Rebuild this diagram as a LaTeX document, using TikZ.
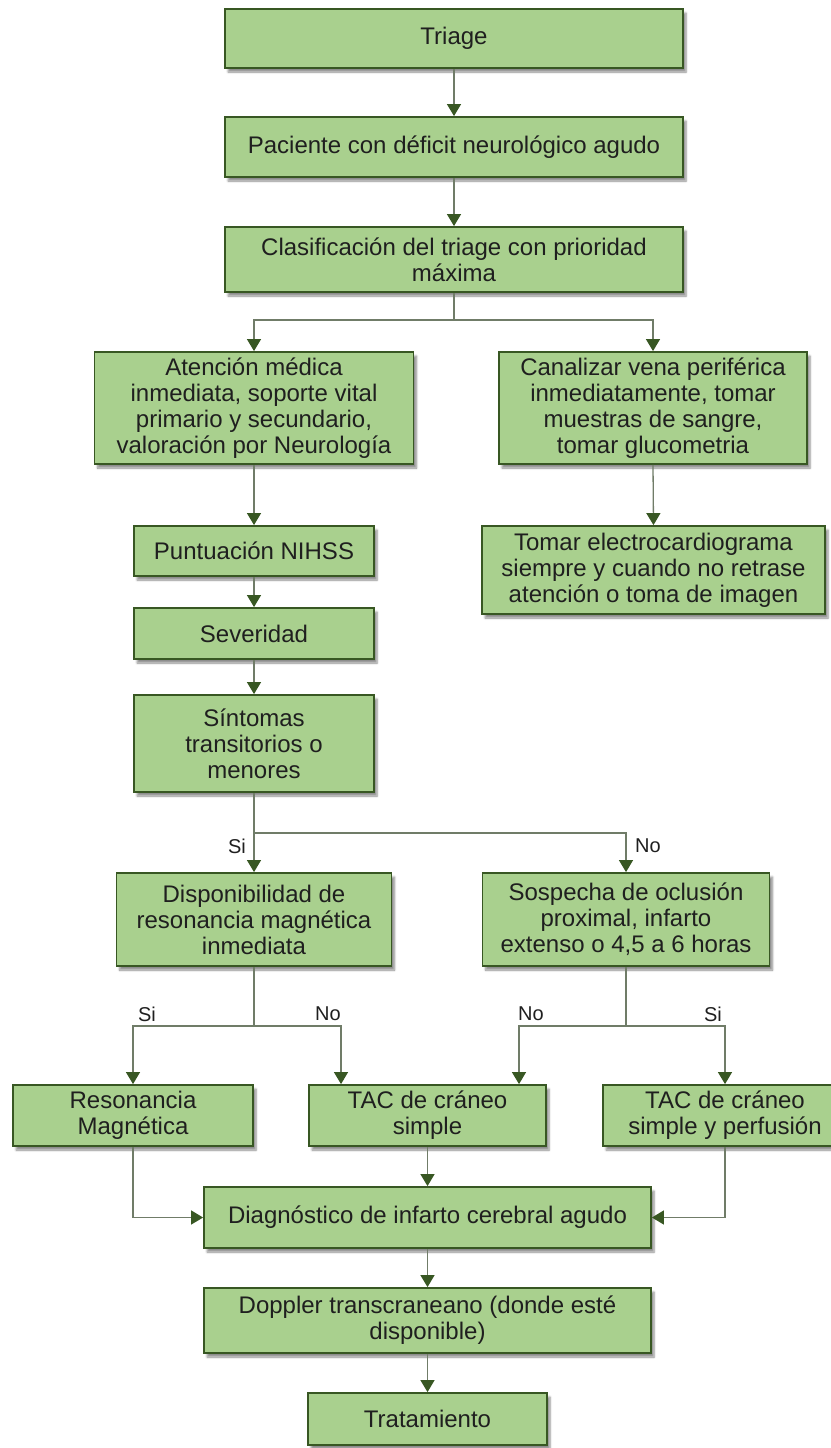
\documentclass[tikz,border=0pt]{standalone}
\usepackage{fontspec}
\setmainfont{Liberation Sans}
\usetikzlibrary{positioning, arrows.meta, shadows.blur}

\definecolor{boxfill}{RGB}{169,208,142}
\definecolor{boxline}{RGB}{56,87,35}
\definecolor{wire}{RGB}{112,124,104}
\definecolor{tipgreen}{RGB}{56,87,35}

\begin{document}
\begin{tikzpicture}[x=1pt, y=-1pt,
    paso/.style={draw=boxline, fill=boxfill, line width=1.8pt, align=center,
        font=\fontsize{24}{26}\selectfont, text=black!88, inner sep=4pt,
        blur shadow={shadow xshift=3pt, shadow yshift=-4pt, shadow opacity=45, shadow blur steps=6}},
    flecha/.style={draw=wire, line width=1.3pt,
        -{Triangle[width=14pt, length=12pt, color=tipgreen]}},
    linea/.style={draw=wire, line width=1.3pt},
    etiq/.style={font=\fontsize{20}{24}\selectfont, text=black!88}]

    \useasboundingbox (0,0) rectangle (830,1448);

    \node[paso, minimum width=458, minimum height=59] (triage) at (454,38.5) {Triage};
    \node[paso, minimum width=458, minimum height=60] (paciente) at (454,147) {Paciente con déficit neurológico agudo};
    \node[paso, minimum width=458, minimum height=65] (clasif) at (454,259.5) {Clasificación del triage con prioridad\\máxima};

    \node[paso, minimum width=319, minimum height=112] (atencion) at (254,408) {Atención médica\\inmediata, soporte vital\\primario y secundario,\\valoración por Neurología};
    \node[paso, minimum width=308, minimum height=112] (canal) at (653,408) {Canalizar vena periférica\\inmediatamente, tomar\\muestras de sangre,\\tomar glucometria};

    \node[paso, minimum width=240, minimum height=50] (nihss) at (254,551) {Puntuación NIHSS};
    \node[paso, minimum width=343, minimum height=88] (tomar) at (653.5,570) {Tomar electrocardiograma\\siempre y cuando no retrase\\atención o toma de imagen};
    \node[paso, minimum width=240, minimum height=51] (sever) at (254,633.5) {Severidad};
    \node[paso, minimum width=240, minimum height=97] (sintomas) at (254,743.5) {Síntomas\\transitorios o\\menores};

    \node[paso, minimum width=275, minimum height=93] (dispon) at (254,919.5) {Disponibilidad de\\resonancia magnética\\inmediata};
    \node[paso, minimum width=287, minimum height=93] (sospecha) at (626,919.5) {Sospecha de oclusión\\proximal, infarto\\extenso o 4,5 a 6 horas};

    \node[paso, minimum width=240, minimum height=61] (reson) at (133,1115.5) {Resonancia\\Magnética};
    \node[paso, minimum width=237, minimum height=61] (tacsimple) at (427.5,1115.5) {TAC de cráneo\\simple};
    \node[paso, minimum width=244, minimum height=61] (tacperf) at (725,1115.5) {TAC de cráneo\\simple y perfusión};

    \node[paso, minimum width=447, minimum height=61] (diag) at (427.5,1217.5) {Diagnóstico de infarto cerebral agudo};
    \node[paso, minimum width=447, minimum height=65] (doppler) at (427.5,1320.5) {Doppler transcraneano (donde esté\\disponible)};
    \node[paso, minimum width=239, minimum height=52] (tratam) at (427.5,1419) {Tratamiento};

    \draw[flecha] (triage.south) -- (paciente.north);
    \draw[flecha] (paciente.south) -- (clasif.north);

    \coordinate (r1) at (454,320);
    \draw[linea] (clasif.south) -- (r1);
    \draw[flecha] (r1) -| (atencion.north);
    \draw[flecha] (r1) -| (canal.north);

    \draw[flecha] (atencion.south) -- (nihss.north);
    \draw[flecha] (canal.south) -- (tomar.north);
    \draw[flecha] (nihss.south) -- (sever.north);
    \draw[flecha] (sever.south) -- (sintomas.north);

    \coordinate (r2) at (254,833);
    \draw[flecha] (sintomas.south) -- (dispon.north);
    \draw[flecha] (r2) -| (sospecha.north);
    \node[etiq] (si1) at (237,846) {Si};
    \node[etiq] (no1) at (648,846) {No};

    \coordinate (r3) at (254,1026);
    \draw[linea] (dispon.south) -- (r3);
    \draw[flecha] (r3) -| (reson.north);
    \draw[flecha] (r3) -| ([xshift=-86.5pt]tacsimple.north);
    \node[etiq] (si2) at (147,1014) {Si};
    \node[etiq] (no2) at (328,1014) {No};

    \coordinate (r4) at (626,1026);
    \draw[linea] (sospecha.south) -- (r4);
    \draw[flecha] (r4) -| ([xshift=91.5pt]tacsimple.north);
    \draw[flecha] (r4) -| (tacperf.north);
    \node[etiq] (no3) at (531,1014) {No};
    \node[etiq] (si3) at (713,1014) {Si};

    \draw[flecha] (reson.south) |- (diag.west);
    \draw[flecha] (tacsimple.south) -- (diag.north);
    \draw[flecha] (tacperf.south) |- (diag.east);

    \draw[flecha] (diag.south) -- (doppler.north);
    \draw[flecha] (doppler.south) -- (tratam.north);

\end{tikzpicture}
\end{document}
